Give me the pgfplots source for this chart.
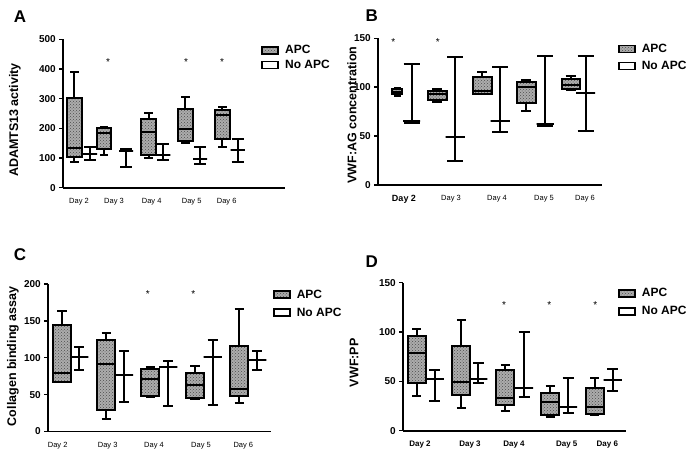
\documentclass[border=0pt]{standalone}
\usepackage{pgfplots}
\pgfplotsset{compat=1.18}
\usepgfplotslibrary{statistics}
\usetikzlibrary{patterns}
\usepackage{fontspec}
\setmainfont{Liberation Sans}
\setsansfont{Liberation Sans}

\pgfplotsset{
  panel/.style={
    scale only axis,
    axis x line*=bottom, axis y line*=left,
    axis line style={line width=1.8pt,-},
    enlargelimits=false, clip=false,
    /pgf/number format/assume math mode=true,
    tick align=outside, major tick length=4pt,
    ytick style={line width=1.5pt, black},
    xtick style={draw=none},
    yticklabel style={font=\fontsize{10}{12}\selectfont\bfseries},
    xticklabel style={font=\fontsize{7.5}{9}\selectfont, yshift=-3pt},
    ylabel style={font=\fontsize{12.5}{15}\selectfont\bfseries, anchor=center},
    legend style={draw=none, fill=none, font=\fontsize{12}{14}\selectfont\bfseries,
      anchor=north west, inner sep=0pt, cells={anchor=west}},
    boxplot/draw direction=y,
  },
  apc/.style={line width=2pt, black, solid,
    boxplot/every box/.style={fill=gray!65, postaction={pattern=crosshatch dots, pattern color=black!70}},
    boxplot/every median/.style={line width=2pt}},
  noapc/.style={line width=2pt, black, solid},
  apcleg/.style={legend image code/.code={\draw[line width=1.8pt, fill=gray!65, postaction={pattern=crosshatch dots, pattern color=black!70}] (0pt,-3.5pt) rectangle (16pt,3.5pt); \path[draw=none, fill=none] (0pt,0pt) rectangle (21pt,0.1pt);}},
  noleg/.style={legend image code/.code={\draw[line width=1.8pt, fill=white] (0pt,-3.5pt) rectangle (16pt,3.5pt); \path[draw=none, fill=none] (0pt,0pt) rectangle (21pt,0.1pt);}},
}
\newcommand{\sigstar}[2]{\node[font=\fontsize{10}{10}\selectfont, yshift=-2pt] at (axis cs:#1,#2) {*};}

\begin{document}
\begin{tikzpicture}[x=1pt,y=1pt]
\useasboundingbox (0pt,0pt) rectangle (695pt,457pt);

% ---------------- Panel A ----------------
\begin{axis}[panel, at={(63.3pt,269.3pt)}, anchor=south west,
  width=221.7pt, height=148.4pt,
  xmin=63.3, xmax=285, ymin=0, ymax=500,
  ytick={0,100,200,300,400,500},
  xtick={79,114,151.7,191.7,226.7},
  xticklabels={Day 2,Day 3,Day 4,Day 5,Day 6},
  ylabel={ADAMTS13 activity},
  ylabel style={at={(axis description cs:-0.218,0.456)}},
  legend style={at={(axis description cs:0.892,0.975)}, row sep=1pt},
]
\addlegendimage{apcleg}\addlegendentry{APC}
\addlegendimage{noleg}\addlegendentry{No APC}
\addplot[apc, boxplot prepared={draw position=74.3, lower whisker=85, lower quartile=102, median=135, upper quartile=301, upper whisker=391, box extend=15, whisker extend=8.5}] coordinates {};
\addplot[apc, boxplot prepared={draw position=104, lower whisker=110, lower quartile=130, median=185, upper quartile=202, upper whisker=206, box extend=14, whisker extend=8.5}] coordinates {};
\addplot[apc, boxplot prepared={draw position=148.7, lower whisker=99, lower quartile=110, median=187, upper quartile=230, upper whisker=250, box extend=15, whisker extend=8.5}] coordinates {};
\addplot[apc, boxplot prepared={draw position=185.3, lower whisker=149, lower quartile=157, median=199, upper quartile=264, upper whisker=307, box extend=15, whisker extend=8.5}] coordinates {};
\addplot[apc, boxplot prepared={draw position=222.3, lower whisker=138, lower quartile=163, median=245, upper quartile=262, upper whisker=273, box extend=15, whisker extend=8.5}] coordinates {};
\addplot[noapc, boxplot prepared={draw position=90, lower whisker=93, lower quartile=112, median=112, upper quartile=112, upper whisker=136, box extend=14, whisker extend=12}] coordinates {};
\addplot[noapc, boxplot prepared={draw position=126, lower whisker=71, lower quartile=123, median=123, upper quartile=123, upper whisker=130, box extend=14, whisker extend=12}] coordinates {};
\addplot[noapc, boxplot prepared={draw position=163.3, lower whisker=93, lower quartile=110, median=110, upper quartile=110, upper whisker=147, box extend=14, whisker extend=12}] coordinates {};
\addplot[noapc, boxplot prepared={draw position=200, lower whisker=80, lower quartile=96, median=96, upper quartile=96, upper whisker=137, box extend=14, whisker extend=12}] coordinates {};
\addplot[noapc, boxplot prepared={draw position=237.7, lower whisker=88, lower quartile=126, median=126, upper quartile=126, upper whisker=163, box extend=14, whisker extend=12}] coordinates {};
\sigstar{108}{430}\sigstar{186}{430}\sigstar{222}{430}
\end{axis}

% ---------------- Panel B ----------------
\begin{axis}[panel, at={(378.3pt,272pt)}, anchor=south west,
  width=223.4pt, height=146.7pt,
  xmin=378.3, xmax=601.7, ymin=0, ymax=150,
  ytick={0,50,100,150},
  xtick={404,451,497,544,585},
  xticklabels={{\fontsize{9}{10}\selectfont\bfseries Day 2},Day 3,Day 4,Day 5,Day 6},
  ylabel={VWF:AG concentration},
  ylabel style={at={(axis description cs:-0.118,0.477)}},
  legend style={at={(axis description cs:1.0716,0.975)}, row sep=3pt},
]
\addlegendimage{apcleg}\addlegendentry{APC}
\addlegendimage{noleg}\addlegendentry{No APC}
\addplot[apc, boxplot prepared={draw position=397.3, lower whisker=91, lower quartile=93, median=95.5, upper quartile=98.5, upper whisker=99, box extend=10, whisker extend=7}] coordinates {};
\addplot[apc, boxplot prepared={draw position=437.3, lower whisker=85, lower quartile=87, median=93, upper quartile=96.5, upper whisker=98, box extend=19, whisker extend=10}] coordinates {};
\addplot[apc, boxplot prepared={draw position=482, lower whisker=93, lower quartile=93, median=96, upper quartile=110, upper whisker=116, box extend=19, whisker extend=10}] coordinates {};
\addplot[apc, boxplot prepared={draw position=526, lower whisker=75.7, lower quartile=83.5, median=100, upper quartile=105, upper whisker=107, box extend=19, whisker extend=10}] coordinates {};
\addplot[apc, boxplot prepared={draw position=570.7, lower whisker=97, lower quartile=98, median=102, upper quartile=108, upper whisker=111.5, box extend=18, whisker extend=10}] coordinates {};
\addplot[noapc, boxplot prepared={draw position=411.7, lower whisker=63.5, lower quartile=65, median=65, upper quartile=65, upper whisker=124, box extend=17, whisker extend=16}] coordinates {};
\addplot[noapc, boxplot prepared={draw position=455, lower whisker=25, lower quartile=49.4, median=49.4, upper quartile=49.4, upper whisker=130.6, box extend=19, whisker extend=16}] coordinates {};
\addplot[noapc, boxplot prepared={draw position=500, lower whisker=54.5, lower quartile=65, median=65, upper quartile=65, upper whisker=121, box extend=19, whisker extend=16}] coordinates {};
\addplot[noapc, boxplot prepared={draw position=545, lower whisker=60.3, lower quartile=62.4, median=62.4, upper quartile=62.4, upper whisker=132, box extend=17, whisker extend=16}] coordinates {};
\addplot[noapc, boxplot prepared={draw position=585.7, lower whisker=55, lower quartile=94, median=94, upper quartile=94, upper whisker=132, box extend=19, whisker extend=16}] coordinates {};
\sigstar{393.3}{148}\sigstar{437.7}{148}
\end{axis}

% ---------------- Panel C ----------------
\begin{axis}[panel, at={(48.3pt,25.5pt)}, anchor=south west,
  width=222.4pt, height=147.5pt,
  xmin=48.3, xmax=270.7, ymin=0, ymax=200,
  ytick={0,50,...,200},
  xtick={57.7,107.7,154,201,243.3},
  xticklabels={Day 2,Day 3,Day 4,Day 5,Day 6},
  ylabel={Collagen binding assay},
  ylabel style={at={(axis description cs:-0.159,0.51)}},
  legend style={at={(axis description cs:1.009,0.975)}, row sep=4pt},
]
\addlegendimage{apcleg}\addlegendentry{APC}
\addlegendimage{noleg}\addlegendentry{No APC}
\addplot[apc, boxplot prepared={draw position=61.8, lower whisker=67, lower quartile=67.4, median=79, upper quartile=144, upper whisker=164, box extend=18, whisker extend=9.5}] coordinates {};
\addplot[apc, boxplot prepared={draw position=106.3, lower whisker=17, lower quartile=29, median=91, upper quartile=124, upper whisker=134, box extend=18, whisker extend=9.5}] coordinates {};
\addplot[apc, boxplot prepared={draw position=150.3, lower whisker=47, lower quartile=48, median=71, upper quartile=85, upper whisker=87, box extend=18, whisker extend=9.5}] coordinates {};
\addplot[apc, boxplot prepared={draw position=195, lower whisker=44, lower quartile=46, median=62.4, upper quartile=78.7, upper whisker=88.7, box extend=18, whisker extend=9.5}] coordinates {};
\addplot[apc, boxplot prepared={draw position=239.3, lower whisker=39, lower quartile=48, median=58, upper quartile=116, upper whisker=166.5, box extend=18, whisker extend=9.5}] coordinates {};
\addplot[noapc, boxplot prepared={draw position=79.3, lower whisker=84, lower quartile=101, median=101, upper quartile=101, upper whisker=115, box extend=18, whisker extend=10}] coordinates {};
\addplot[noapc, boxplot prepared={draw position=124, lower whisker=40, lower quartile=76, median=76, upper quartile=76, upper whisker=109.5, box extend=18, whisker extend=10}] coordinates {};
\addplot[noapc, boxplot prepared={draw position=168.3, lower whisker=34, lower quartile=87, median=87, upper quartile=87, upper whisker=96, box extend=18, whisker extend=10}] coordinates {};
\addplot[noapc, boxplot prepared={draw position=212.7, lower whisker=36, lower quartile=101, median=101, upper quartile=101, upper whisker=124, box extend=18, whisker extend=10}] coordinates {};
\addplot[noapc, boxplot prepared={draw position=257.3, lower whisker=84, lower quartile=96.4, median=96.4, upper quartile=96.4, upper whisker=108.6, box extend=18, whisker extend=10}] coordinates {};
\sigstar{147.7}{189}\sigstar{193.3}{189}
\end{axis}

% ---------------- Panel D ----------------
\begin{axis}[panel, at={(403.3pt,26.3pt)}, anchor=south west,
  width=222.7pt, height=148pt,
  xmin=403.3, xmax=626, ymin=0, ymax=150,
  ytick={0,50,100,150},
  xtick={420,470,514,566.7,607.3},
  xticklabels={Day 2,Day 3,Day 4,Day 5,Day 6},
  xticklabel style={font=\fontsize{8}{9}\selectfont\bfseries},
  ylabel={VWF:PP},
  ylabel style={at={(axis description cs:-0.221,0.459)}},
  legend style={at={(axis description cs:0.963,0.975)}, row sep=4pt},
]
\addlegendimage{apcleg}\addlegendentry{APC}
\addlegendimage{noleg}\addlegendentry{No APC}
\addplot[apc, boxplot prepared={draw position=416.5, lower whisker=35, lower quartile=48, median=78.3, upper quartile=95.8, upper whisker=102.6, box extend=18, whisker extend=9}] coordinates {};
\addplot[apc, boxplot prepared={draw position=461.3, lower whisker=23, lower quartile=35.8, median=49.3, upper quartile=85.7, upper whisker=112, box extend=18, whisker extend=9}] coordinates {};
\addplot[apc, boxplot prepared={draw position=505.3, lower whisker=20, lower quartile=26, median=32.7, upper quartile=62, upper whisker=67, box extend=18, whisker extend=9}] coordinates {};
\addplot[apc, boxplot prepared={draw position=550, lower whisker=14, lower quartile=15.5, median=29.4, upper quartile=37.8, upper whisker=45, box extend=18, whisker extend=9}] coordinates {};
\addplot[apc, boxplot prepared={draw position=594.7, lower whisker=15.5, lower quartile=16.9, median=24.3, upper quartile=42.9, upper whisker=53.7, box extend=18, whisker extend=9}] coordinates {};
\addplot[noapc, boxplot prepared={draw position=434.7, lower whisker=29.7, lower quartile=52.3, median=52.3, upper quartile=52.3, upper whisker=61.4, box extend=18, whisker extend=11}] coordinates {};
\addplot[noapc, boxplot prepared={draw position=478.3, lower whisker=48, lower quartile=52, median=52, upper quartile=52, upper whisker=68.8, box extend=18, whisker extend=11}] coordinates {};
\addplot[noapc, boxplot prepared={draw position=524, lower whisker=34.4, lower quartile=43, median=43, upper quartile=43, upper whisker=99.6, box extend=18, whisker extend=11}] coordinates {};
\addplot[noapc, boxplot prepared={draw position=568, lower whisker=18.2, lower quartile=23.6, median=23.6, upper quartile=23.6, upper whisker=53.7, box extend=18, whisker extend=11}] coordinates {};
\addplot[noapc, boxplot prepared={draw position=612.7, lower whisker=40.5, lower quartile=51.3, median=51.3, upper quartile=51.3, upper whisker=62.4, box extend=18, whisker extend=11}] coordinates {};
\sigstar{504}{129.6}\sigstar{549.3}{129.6}\sigstar{595.3}{129.6}
\end{axis}

% panel letters
\node[font=\fontsize{17}{20}\selectfont\bfseries] at (20pt,440.3pt) {A};
\node[font=\fontsize{17}{20}\selectfont\bfseries] at (371.7pt,441pt) {B};
\node[font=\fontsize{17}{20}\selectfont\bfseries] at (20pt,202pt) {C};
\node[font=\fontsize{17}{20}\selectfont\bfseries] at (371.7pt,195.3pt) {D};
\end{tikzpicture}
\end{document}
